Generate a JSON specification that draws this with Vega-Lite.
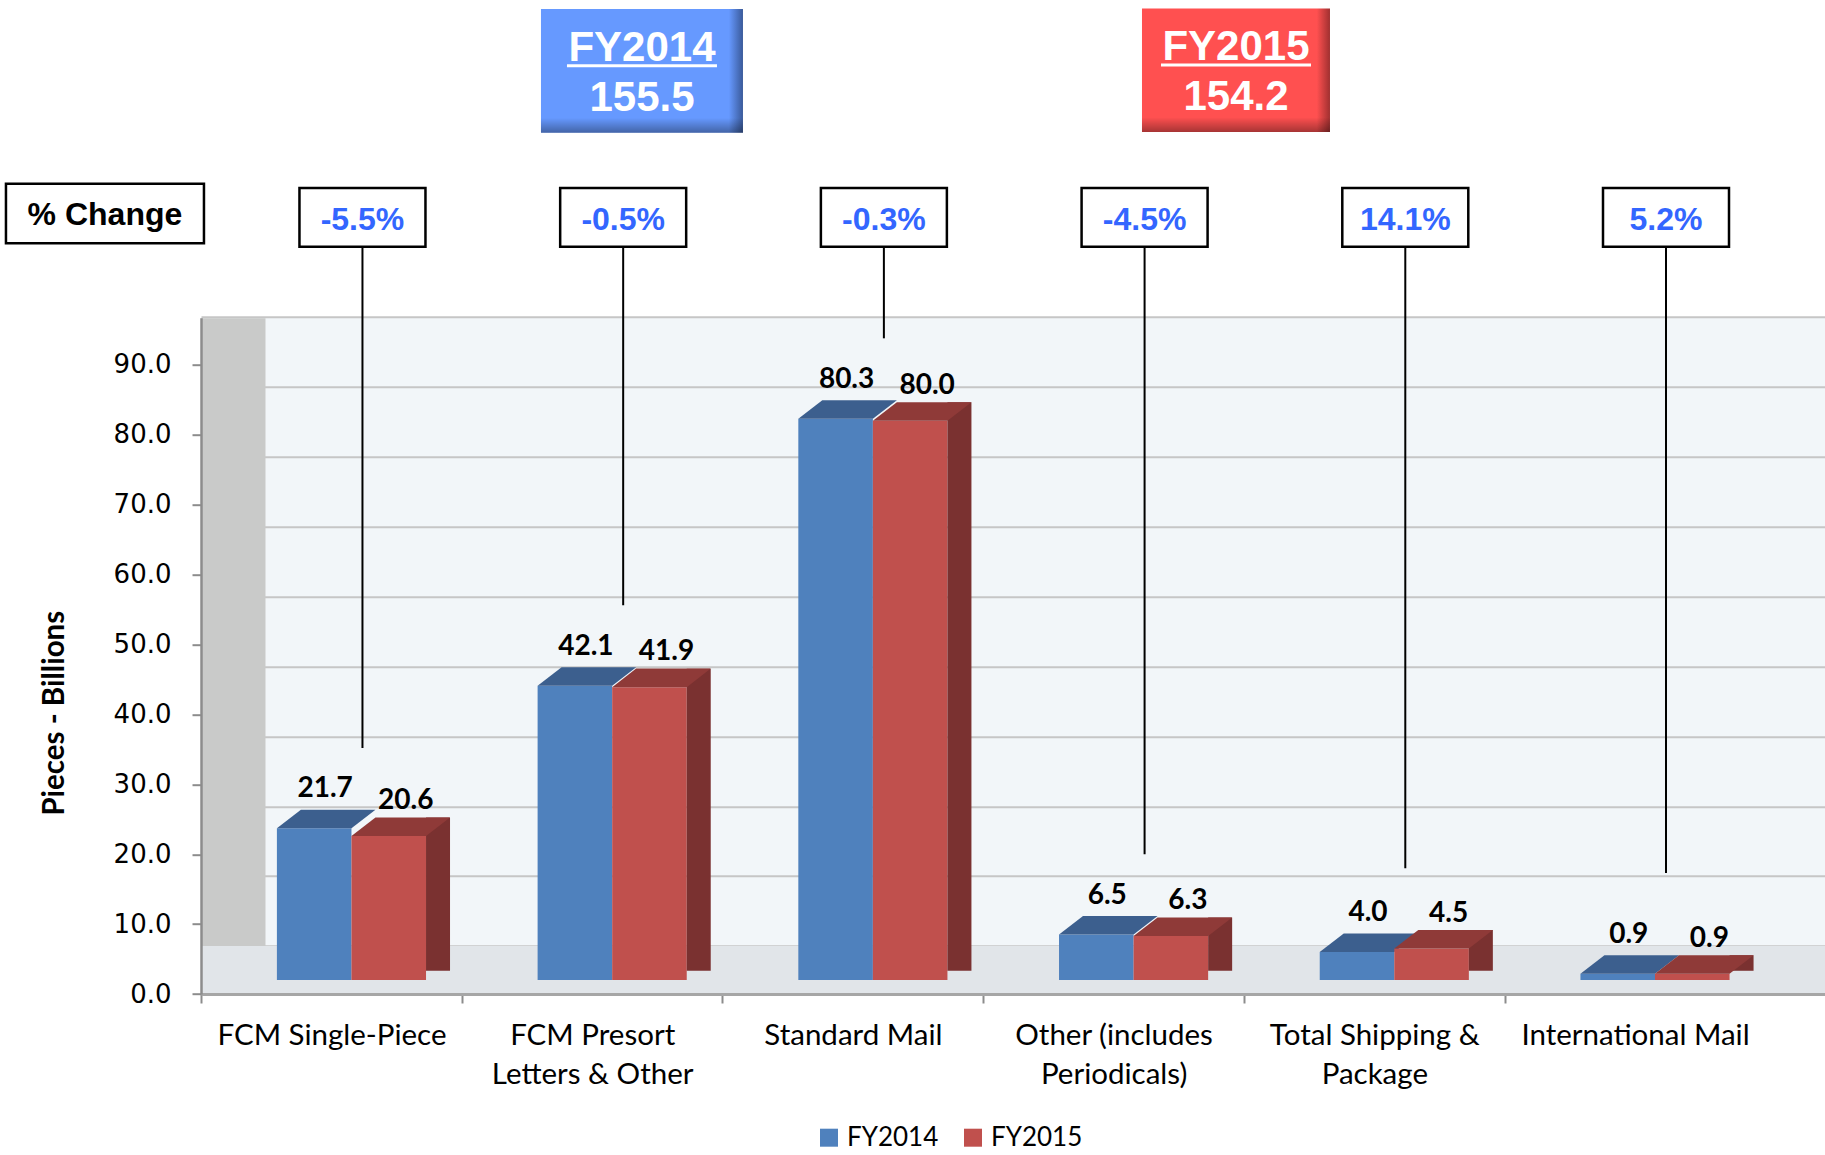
{
  "$schema": "https://vega.github.io/schema/vega-lite/v6.json",
  "autosize": "none",
  "width": 1624,
  "height": 676.3,
  "padding": {"left": 201, "top": 317.7, "right": 0, "bottom": 161},
  "background": "white",
  "config": {"view": {"stroke": null, "fill": "#F2F6F9"}, "font": "Lato"},
  "datasets": {
    "volumes": [
      {"category": "FCM Single-Piece", "series": "FY2014", "value": 21.7},
      {"category": "FCM Single-Piece", "series": "FY2015", "value": 20.6},
      {"category": "FCM Presort Letters & Other", "series": "FY2014", "value": 42.1},
      {"category": "FCM Presort Letters & Other", "series": "FY2015", "value": 41.9},
      {"category": "Standard Mail", "series": "FY2014", "value": 80.3},
      {"category": "Standard Mail", "series": "FY2015", "value": 80.0},
      {"category": "Other (includes Periodicals)", "series": "FY2014", "value": 6.5},
      {"category": "Other (includes Periodicals)", "series": "FY2015", "value": 6.3},
      {"category": "Total Shipping & Package", "series": "FY2014", "value": 4.0},
      {"category": "Total Shipping & Package", "series": "FY2015", "value": 4.5},
      {"category": "International Mail", "series": "FY2014", "value": 0.9},
      {"category": "International Mail", "series": "FY2015", "value": 0.9}
    ],
    "changes": [
      {"category": "FCM Single-Piece", "pct": "-5.5%"},
      {"category": "FCM Presort Letters & Other", "pct": "-0.5%"},
      {"category": "Standard Mail", "pct": "-0.3%"},
      {"category": "Other (includes Periodicals)", "pct": "-4.5%"},
      {"category": "Total Shipping & Package", "pct": "14.1%"},
      {"category": "International Mail", "pct": "5.2%"}
    ],
    "totals": [
      {"series": "FY2014", "total": "155.5"},
      {"series": "FY2015", "total": "154.2"}
    ],
    "notes": [{"label": "% Change"}]
  },
  "resolve": {"axis": {"y": "independent"}},
  "layer": [
    {
      "data": {"name": "notes"},
      "mark": {"type": "rect", "color": "#E1E5E9"},
      "encoding": {
        "y": {
          "datum": -2, "type": "quantitative",
          "scale": {"domain": [-2, 94.75], "nice": false, "zero": false},
          "axis": {
            "orient": "left", "values": [0, 10, 20, 30, 40, 50, 60, 70, 80, 90],
            "tickOffset": -34, "grid": true, "gridColor": "#C6C6C6", "gridWidth": 2,
            "labels": false, "ticks": false, "domain": true, "domainWidth": 64,
            "domainColor": "#C9CAC9", "offset": -32, "title": null
          }
        },
        "y2": {"datum": 4.86}
      }
    },
    {
      "layer": [
        {
          "data": {"name": "volumes"},
          "transform": [{"filter": "datum.series == 'FY2014'"}],
          "mark": {"type": "bar"},
          "encoding": {
            "x": {
              "field": "category", "type": "nominal",
              "scale": {
                "domain": ["FCM Single-Piece", "FCM Presort Letters & Other", "Standard Mail", "Other (includes Periodicals)", "Total Shipping & Package", "International Mail"],
                "paddingInner": 0.428, "paddingOuter": 0.3286, "align": 0.443
              },
              "axis": {
                "title": null, "labelFont": "Lato", "labelFontSize": 29.5, "labelColor": "#000000",
                "labelExpr": "datum.label == 'FCM Presort Letters & Other' ? ['FCM Presort', 'Letters & Other'] : datum.label == 'Other (includes Periodicals)' ? ['Other (includes', 'Periodicals)'] : datum.label == 'Total Shipping & Package' ? ['Total Shipping &', 'Package'] : datum.label",
                "labelLineHeight": 39, "labelPadding": 18, "labelAngle": 0, "labelBaseline": "top", "labelLimit": 0,
                "tickOffset": -150.5, "labelOffset": 130.5, "tickSize": 9, "tickColor": "#8C8C8C", "tickWidth": 2,
                "domainColor": "#A6A6A6", "domainWidth": 3, "zindex": 1
              }
            },
            "xOffset": {"field": "series", "type": "nominal", "scale": {"domain": ["FY2014", "FY2015"], "paddingInner": 0, "paddingOuter": 0}},
            "y": {
              "field": "value", "type": "quantitative",
              "axis": {
                "orient": "left", "values": [0, 10, 20, 30, 40, 50, 60, 70, 80, 90], "format": ".1f",
                "tickOffset": 14, "grid": false, "labelFont": "DejaVu Sans", "labelFontSize": 26, "labelColor": "#000000",
                "labelPadding": 21, "tickSize": 9, "tickColor": "#8C8C8C", "tickWidth": 2,
                "domainColor": "#8C8C8C", "domainWidth": 2.5,
                "title": "Pieces - Billions", "titleFont": "Lato", "titleFontSize": 29.5, "titleFontWeight": "bold",
                "titleColor": "#000000", "titleX": -138, "titleY": 395, "titleAngle": -90,
                "titleBaseline": "alphabetic", "titleAlign": "center", "zindex": 1
              }
            },
            "color": {
              "field": "series", "type": "nominal",
              "scale": {"domain": ["FY2014", "FY2015"], "range": ["#4F81BD", "#C0504D"]},
              "legend": {
                "title": null, "orient": "none", "legendX": 615, "legendY": 807, "direction": "horizontal",
                "symbolType": "square", "symbolSize": 324, "symbolStrokeWidth": 0, "symbolOpacity": 1,
                "labelFont": "Lato", "labelFontSize": 26, "labelColor": "#000000", "labelOffset": 5,
                "columnPadding": 21, "padding": 0
              }
            }
          }
        },
        {
          "data": {"name": "volumes"},
          "transform": [{"filter": "datum.series == 'FY2014'"}],
          "mark": {"type": "point", "shape": "M-1,0.188L0.513,0.188L1,-0.188L-0.513,-0.188Z", "size": 9714, "filled": true, "opacity": 1, "strokeWidth": 0, "color": "#3C5F8E", "xOffset": -25.28, "yOffset": -9.25},
          "encoding": {
            "x": {"field": "category", "type": "nominal"},
            "y": {"field": "value", "type": "quantitative"}
          }
        },
        {
          "data": {"name": "volumes"},
          "transform": [{"filter": "datum.series == 'FY2015'"}],
          "mark": {"type": "bar"},
          "encoding": {
            "x": {"field": "category", "type": "nominal"},
            "xOffset": {"field": "series", "type": "nominal"},
            "y": {"field": "value", "type": "quantitative"},
            "color": {"field": "series", "type": "nominal"}
          }
        },
        {
          "data": {"name": "volumes"},
          "transform": [{"filter": "datum.series == 'FY2015'"}],
          "mark": {"type": "bar", "width": 24, "color": "#7A3130", "xOffset": 86.56, "yOffset": -18.5, "y2Offset": -9.25},
          "encoding": {
            "x": {"field": "category", "type": "nominal"},
            "y": {"field": "value", "type": "quantitative"},
            "y2": {"datum": 0}
          }
        },
        {
          "data": {"name": "volumes"},
          "transform": [{"filter": "datum.series == 'FY2015'"}],
          "mark": {"type": "point", "shape": "M-1,0.188L0.513,0.188L1,-0.188L-0.513,-0.188Z", "size": 9714, "filled": true, "opacity": 1, "strokeWidth": 0, "color": "#8F3A38", "xOffset": 49.28, "yOffset": -9.25},
          "encoding": {
            "x": {"field": "category", "type": "nominal"},
            "y": {"field": "value", "type": "quantitative"}
          }
        },
        {
          "data": {"name": "volumes"},
          "transform": [{"filter": "datum.series == 'FY2014'"}],
          "mark": {"type": "text", "font": "Lato", "fontSize": 28, "fontWeight": "bold", "color": "#000000", "baseline": "alphabetic", "align": "center", "xOffset": -26.3, "yOffset": -31},
          "encoding": {
            "x": {"field": "category", "type": "nominal"},
            "y": {"field": "value", "type": "quantitative"},
            "text": {"field": "value", "type": "quantitative", "format": ".1f"}
          }
        },
        {
          "data": {"name": "volumes"},
          "transform": [{"filter": "datum.series == 'FY2015'"}],
          "mark": {"type": "text", "font": "Lato", "fontSize": 28, "fontWeight": "bold", "color": "#000000", "baseline": "alphabetic", "align": "center", "xOffset": 54.3, "yOffset": -27},
          "encoding": {
            "x": {"field": "category", "type": "nominal"},
            "y": {"field": "value", "type": "quantitative"},
            "text": {"field": "value", "type": "quantitative", "format": ".1f"}
          }
        },
        {
          "data": {"name": "volumes"},
          "transform": [
            {"aggregate": [{"op": "max", "field": "value", "as": "top"}], "groupby": ["category"]},
            {"calculate": "max(datum.top + 11.5, 15.3)", "as": "lineEnd"}
          ],
          "mark": {"type": "rule", "color": "#000000", "strokeWidth": 2, "xOffset": 11},
          "encoding": {
            "x": {"field": "category", "type": "nominal"},
            "y": {"field": "lineEnd", "type": "quantitative"},
            "y2": {"datum": 104.9}
          }
        },
        {
          "data": {"name": "changes"},
          "mark": {"type": "bar", "width": 126, "fill": "#FFFFFF", "stroke": "#000000", "strokeWidth": 2.5, "xOffset": 11},
          "encoding": {
            "x": {"field": "category", "type": "nominal"},
            "y": {"datum": 113.3, "type": "quantitative"},
            "y2": {"datum": 104.9}
          }
        },
        {
          "data": {"name": "changes"},
          "mark": {"type": "text", "font": "Liberation Sans", "fontSize": 32, "fontWeight": "bold", "color": "#3366FF", "baseline": "alphabetic", "align": "center", "xOffset": 11},
          "encoding": {
            "x": {"field": "category", "type": "nominal"},
            "y": {"datum": 107.3, "type": "quantitative"},
            "text": {"field": "pct", "type": "nominal"}
          }
        },
        {
          "data": {"name": "notes"},
          "mark": {"type": "bar", "width": 198, "fill": "#FFFFFF", "stroke": "#000000", "strokeWidth": 2.5, "xOffset": -246.5},
          "encoding": {
            "x": {"datum": "FCM Single-Piece", "type": "nominal"},
            "y": {"datum": 113.9, "type": "quantitative"},
            "y2": {"datum": 105.4}
          }
        },
        {
          "data": {"name": "notes"},
          "mark": {"type": "text", "font": "Liberation Sans", "fontSize": 32, "fontWeight": "bold", "color": "#000000", "baseline": "alphabetic", "align": "center", "xOffset": -246.5},
          "encoding": {
            "x": {"datum": "FCM Single-Piece", "type": "nominal"},
            "y": {"datum": 108.0, "type": "quantitative"},
            "text": {"field": "label", "type": "nominal"}
          }
        },
        {
          "data": {"name": "totals"},
          "transform": [{"filter": "datum.series == 'FY2014'"}],
          "mark": {"type": "bar", "width": 202, "xOffset": 29.8, "color": {"gradient": "linear", "x1": 0, "y1": 0, "x2": 1, "y2": 0, "stops": [{"offset": 0, "color": "#6699FF"}, {"offset": 0.93, "color": "#6699FF"}, {"offset": 1, "color": "#3A5A9A"}]}},
          "encoding": {
            "x": {"datum": "FCM Presort Letters & Other", "type": "nominal"},
            "y": {"datum": 138.9, "type": "quantitative"},
            "y2": {"datum": 121.2}
          }
        },
        {
          "data": {"name": "totals"},
          "transform": [{"filter": "datum.series == 'FY2014'"}],
          "mark": {"type": "bar", "width": 202, "xOffset": 29.8, "color": {"gradient": "linear", "x1": 0, "y1": 0, "x2": 0, "y2": 1, "stops": [{"offset": 0, "color": "rgba(0,0,0,0)"}, {"offset": 0.88, "color": "rgba(0,0,0,0)"}, {"offset": 1, "color": "rgba(0,0,0,0.35)"}]}},
          "encoding": {
            "x": {"datum": "FCM Presort Letters & Other", "type": "nominal"},
            "y": {"datum": 138.9, "type": "quantitative"},
            "y2": {"datum": 121.2}
          }
        },
        {
          "data": {"name": "totals"},
          "transform": [{"filter": "datum.series == 'FY2014'"}],
          "mark": {"type": "text", "font": "Liberation Sans", "fontSize": 42, "fontWeight": "bold", "color": "#FFFFFF", "baseline": "alphabetic", "align": "center", "xOffset": 29.8},
          "encoding": {
            "x": {"datum": "FCM Presort Letters & Other", "type": "nominal"},
            "y": {"datum": 131.5, "type": "quantitative"},
            "text": {"field": "series", "type": "nominal"}
          }
        },
        {
          "data": {"name": "totals"},
          "transform": [{"filter": "datum.series == 'FY2014'"}],
          "mark": {"type": "tick", "size": 150, "thickness": 3, "opacity": 1, "color": "#FFFFFF", "xOffset": 29.8},
          "encoding": {
            "x": {"datum": "FCM Presort Letters & Other", "type": "nominal"},
            "y": {"datum": 130.8, "type": "quantitative"}
          }
        },
        {
          "data": {"name": "totals"},
          "transform": [{"filter": "datum.series == 'FY2014'"}],
          "mark": {"type": "text", "font": "Liberation Sans", "fontSize": 42, "fontWeight": "bold", "color": "#FFFFFF", "baseline": "alphabetic", "align": "center", "xOffset": 29.8},
          "encoding": {
            "x": {"datum": "FCM Presort Letters & Other", "type": "nominal"},
            "y": {"datum": 124.3, "type": "quantitative"},
            "text": {"field": "total", "type": "nominal"}
          }
        },
        {
          "data": {"name": "totals"},
          "transform": [{"filter": "datum.series == 'FY2015'"}],
          "mark": {"type": "bar", "width": 188, "xOffset": 102.4, "color": {"gradient": "linear", "x1": 0, "y1": 0, "x2": 1, "y2": 0, "stops": [{"offset": 0, "color": "#FF5050"}, {"offset": 0.93, "color": "#FF5050"}, {"offset": 1, "color": "#A03030"}]}},
          "encoding": {
            "x": {"datum": "Other (includes Periodicals)", "type": "nominal"},
            "y": {"datum": 139.0, "type": "quantitative"},
            "y2": {"datum": 121.3}
          }
        },
        {
          "data": {"name": "totals"},
          "transform": [{"filter": "datum.series == 'FY2015'"}],
          "mark": {"type": "bar", "width": 188, "xOffset": 102.4, "color": {"gradient": "linear", "x1": 0, "y1": 0, "x2": 0, "y2": 1, "stops": [{"offset": 0, "color": "rgba(0,0,0,0)"}, {"offset": 0.88, "color": "rgba(0,0,0,0)"}, {"offset": 1, "color": "rgba(0,0,0,0.35)"}]}},
          "encoding": {
            "x": {"datum": "Other (includes Periodicals)", "type": "nominal"},
            "y": {"datum": 139.0, "type": "quantitative"},
            "y2": {"datum": 121.3}
          }
        },
        {
          "data": {"name": "totals"},
          "transform": [{"filter": "datum.series == 'FY2015'"}],
          "mark": {"type": "text", "font": "Liberation Sans", "fontSize": 42, "fontWeight": "bold", "color": "#FFFFFF", "baseline": "alphabetic", "align": "center", "xOffset": 102.4},
          "encoding": {
            "x": {"datum": "Other (includes Periodicals)", "type": "nominal"},
            "y": {"datum": 131.6, "type": "quantitative"},
            "text": {"field": "series", "type": "nominal"}
          }
        },
        {
          "data": {"name": "totals"},
          "transform": [{"filter": "datum.series == 'FY2015'"}],
          "mark": {"type": "tick", "size": 150, "thickness": 3, "opacity": 1, "color": "#FFFFFF", "xOffset": 102.4},
          "encoding": {
            "x": {"datum": "Other (includes Periodicals)", "type": "nominal"},
            "y": {"datum": 130.9, "type": "quantitative"}
          }
        },
        {
          "data": {"name": "totals"},
          "transform": [{"filter": "datum.series == 'FY2015'"}],
          "mark": {"type": "text", "font": "Liberation Sans", "fontSize": 42, "fontWeight": "bold", "color": "#FFFFFF", "baseline": "alphabetic", "align": "center", "xOffset": 102.4},
          "encoding": {
            "x": {"datum": "Other (includes Periodicals)", "type": "nominal"},
            "y": {"datum": 124.4, "type": "quantitative"},
            "text": {"field": "total", "type": "nominal"}
          }
        }
      ]
    }
  ]
}
